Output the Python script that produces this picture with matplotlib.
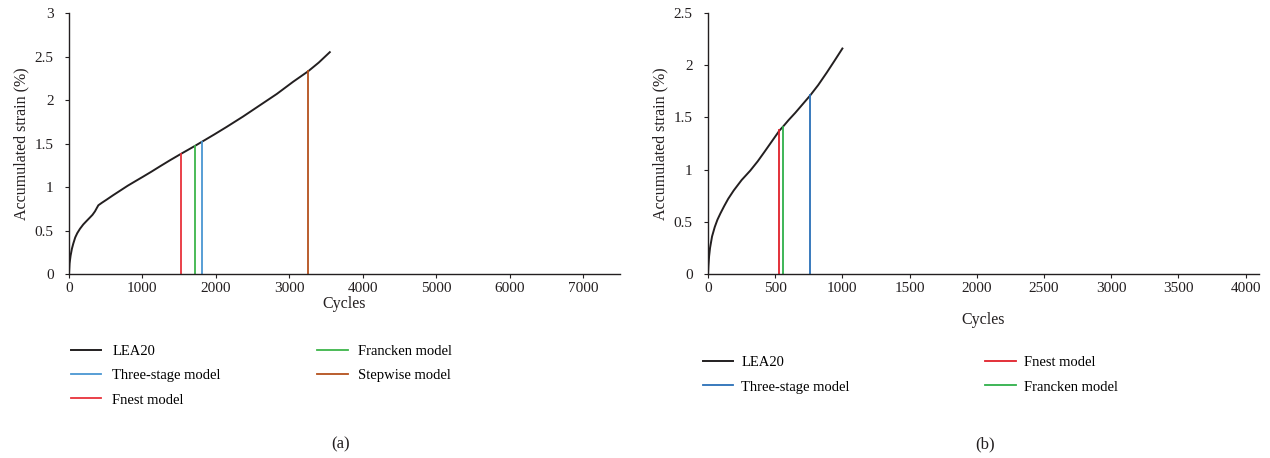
import matplotlib
matplotlib.use("Agg")
import matplotlib.pyplot as plt

plt.rcParams["font.family"] = ["Liberation Serif", "DejaVu Serif"]
plt.rcParams["font.size"] = 11

# panel (a): LEA20 test curve and failure points of each model
a_cycles = [0, 8, 22, 40, 59, 85, 113, 150, 195, 240, 286, 320, 354, 380, 400,
            450, 513, 600, 700, 800, 900, 1011, 1120, 1238, 1380, 1533, 1710,
            1810, 1980, 2145, 2370, 2600, 2830, 3052, 3256, 3400, 3551]
a_strain = [0, 0.12, 0.21, 0.29, 0.35, 0.42, 0.47, 0.52, 0.57, 0.61, 0.65, 0.68,
            0.72, 0.76, 0.79, 0.82, 0.855, 0.905, 0.96, 1.015, 1.065, 1.12,
            1.175, 1.237, 1.31, 1.385, 1.47, 1.52, 1.605, 1.69, 1.81, 1.94,
            2.07, 2.21, 2.33, 2.43, 2.55]
a_models = ["Three-stage model", "Fnest model", "Francken model", "Stepwise model"]
a_fail_cycles = [1810, 1530, 1710, 3260]
a_fail_strain = [1.52, 1.385, 1.47, 2.33]
a_colors = ["#4a96d2", "#e8323a", "#3db54a", "#b4501c"]

# panel (b)
b_cycles = [0, 3, 8, 15, 30, 50, 70, 92, 120, 150, 191, 250, 314, 370, 420, 480,
            532, 557, 600, 650, 700, 760, 820, 884, 940, 1000]
b_strain = [0, 0.08, 0.17, 0.25, 0.36, 0.45, 0.52, 0.58, 0.65, 0.72, 0.80, 0.90,
            0.99, 1.08, 1.17, 1.28, 1.375, 1.41, 1.475, 1.545, 1.62, 1.71, 1.81,
            1.93, 2.04, 2.16]
b_models = ["Three-stage model", "Fnest model", "Francken model"]
b_fail_cycles = [757, 530, 555]
b_fail_strain = [1.71, 1.375, 1.41]
b_colors = ["#2a6fb8", "#e0202a", "#2fb04a"]

curve_color = "#231f20"

fig = plt.figure(figsize=(12.7, 4.58), dpi=100)
ax1 = fig.add_axes([0.0543, 0.4017, 0.4338, 0.5699])
ax2 = fig.add_axes([0.5575, 0.4017, 0.4338, 0.5699])


def draw(ax, cyc, strain, models, fc, fs, colors, xmax, xstep, ymax, order):
    handles = {}
    handles["LEA20"], = ax.plot(cyc, strain, color=curve_color, lw=1.4)
    for name, c, s, col in zip(models, fc, fs, colors):
        handles[name], = ax.plot([c, c], [0, s], color=col, lw=1.3)
    ax.set_xlim(0, xmax)
    ax.set_ylim(0, ymax)
    ax.set_xticks(range(0, int(xmax) + 1, xstep))
    n = int(round(ymax / 0.5)) + 1
    ax.set_yticks([i * 0.5 for i in range(n)])
    ax.set_yticklabels(["%g" % (i * 0.5) for i in range(n)])
    for side in ["top", "right"]:
        ax.spines[side].set_visible(False)
    for side in ["left", "bottom"]:
        ax.spines[side].set_color(curve_color)
        ax.spines[side].set_linewidth(1.0)
    ax.tick_params(direction="out", length=3, width=0.8, colors=curve_color,
                   labelsize=11)
    ax.tick_params(axis="x", pad=2.5)
    ax.tick_params(axis="y", pad=8)
    ax.set_ylabel("Accumulated strain (%)", fontsize=11.5, labelpad=4,
                  color=curve_color)
    return [handles[k] for k in order], order


h, l = draw(ax1, a_cycles, a_strain, a_models, a_fail_cycles, a_fail_strain,
            a_colors, 7500, 1000, 3,
            ["LEA20", "Three-stage model", "Fnest model", "Francken model",
             "Stepwise model"])
ax1.set_xlabel("Cycles", fontsize=11.5, color=curve_color)
ax1.xaxis.set_label_coords(0.5, -0.085)
ax1.legend(h, l, ncol=2, loc="upper left", bbox_to_anchor=(0.003, -0.272),
           frameon=False, fontsize=10.5, handlelength=2.1, handletextpad=0.75,
           columnspacing=6.6, labelspacing=0.75, borderaxespad=0, borderpad=0)

h, l = draw(ax2, b_cycles, b_strain, b_models, b_fail_cycles, b_fail_strain,
            b_colors, 4100, 500, 2.5,
            ["LEA20", "Three-stage model", "Fnest model", "Francken model"])
ax2.set_xlabel("Cycles", fontsize=11.5, color=curve_color)
ax2.xaxis.set_label_coords(0.5, -0.145)
ax2.legend(h, l, ncol=2, loc="upper left", bbox_to_anchor=(-0.01, -0.315),
           frameon=False, fontsize=10.5, handlelength=2.1, handletextpad=0.55,
           columnspacing=9.3, labelspacing=0.75, borderaxespad=0, borderpad=0)

fig.text(0.2685, 0.02, "(a)", ha="center", fontsize=12, color=curve_color)
fig.text(0.7756, 0.02, "(b)", ha="center", fontsize=12, color=curve_color)

fig.savefig("out.png", dpi=100)
